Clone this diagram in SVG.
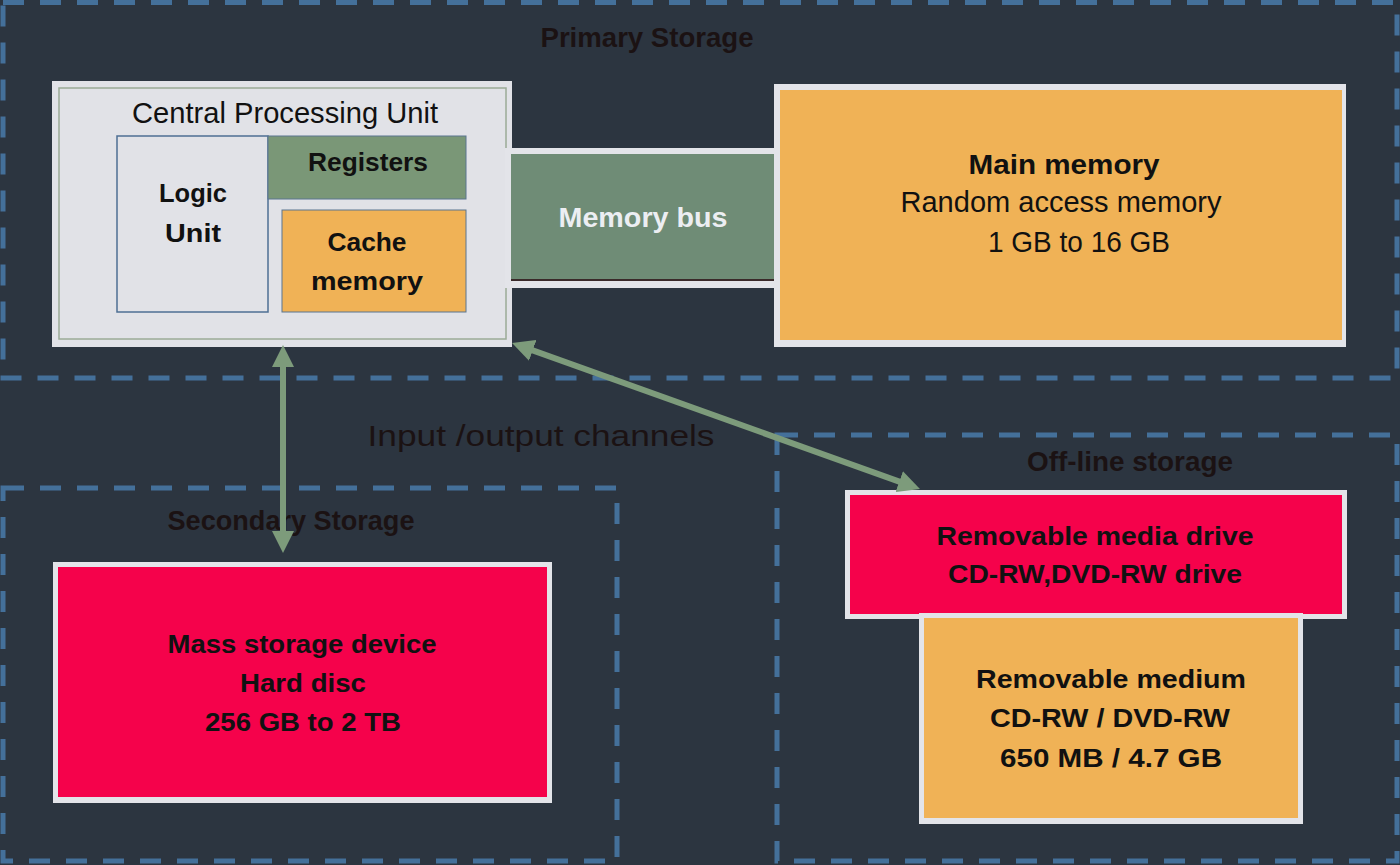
<svg xmlns="http://www.w3.org/2000/svg" width="1400" height="865" viewBox="0 0 1400 865">
  <style>
    .zone { fill: none; stroke: #44709a; stroke-width: 5; stroke-dasharray: 21 16; }
    .head { font-family: "Liberation Sans", Arial, sans-serif; font-weight: bold; font-size: 27px; fill: #1b1213; text-anchor: middle; }
    .lbl { font-family: "Liberation Sans", Arial, sans-serif; font-weight: bold; font-size: 26px; fill: #111111; text-anchor: middle; }
    .big { font-size: 28px; }
    .light { fill: #eceef2; }
    .reg { font-family: "Liberation Sans", Arial, sans-serif; font-weight: normal; font-size: 29px; fill: #111111; text-anchor: middle; }
    .io { font-size: 30px; fill: #1b1213; }
    .frame { fill: #e3e4e9; }
    .orange { fill: #f0b256; }
    .red { fill: #f5024b; }
    .green { fill: #7a9777; }
    .conn { stroke: #7d9b7b; stroke-width: 6; fill: none; }
  </style>
  <defs>
    <marker id="ah" viewBox="0 0 22 22" markerWidth="22" markerHeight="22" refX="6" refY="11" orient="auto-start-reverse" markerUnits="userSpaceOnUse">
      <path d="M0,0 L22,11 L0,22 Z" fill="#7d9b7b"/>
    </marker>
  </defs>

  <rect x="0" y="0" width="1400" height="865" fill="#2c3540"/>

  <g id="zones">
    <g id="primary-storage">
      <rect class="zone" x="3" y="2.5" width="1394" height="375.5"/>
      <text class="head" x="647" y="47" textLength="213" lengthAdjust="spacingAndGlyphs">Primary Storage</text>
    </g>
    <g id="secondary-storage">
      <rect class="zone" x="3" y="488" width="614" height="373"/>
      <text class="head" x="291" y="530" textLength="247" lengthAdjust="spacingAndGlyphs">Secondary Storage</text>
    </g>
    <g id="offline-storage">
      <rect class="zone" x="777" y="435" width="620" height="426"/>
      <text class="head" x="1130" y="471" textLength="206" lengthAdjust="spacingAndGlyphs">Off-line storage</text>
    </g>
    <g id="io-channels">
      <text class="reg io" x="541" y="446" textLength="347" lengthAdjust="spacingAndGlyphs">Input /output channels</text>
    </g>
  </g>

  <g id="cpu">
    <rect x="52" y="81" width="460" height="266" fill="#e1e2e7"/>
    <rect x="59" y="88" width="447" height="251" fill="none" stroke="#9aab97" stroke-width="1.5"/>
    <text class="reg" x="285" y="123" textLength="306" lengthAdjust="spacingAndGlyphs">Central Processing Unit</text>
    <g id="logic-unit">
      <rect x="117" y="136" width="151" height="176" fill="#e1e2e7" stroke="#4d6f94" stroke-width="1.5"/>
      <text class="lbl" x="193" y="202" textLength="68" lengthAdjust="spacingAndGlyphs">Logic</text>
      <text class="lbl" x="193" y="242" textLength="56" lengthAdjust="spacingAndGlyphs">Unit</text>
    </g>
    <g id="registers">
      <rect class="green" x="268" y="136" width="198" height="63" stroke="#5a7590" stroke-width="1"/>
      <text class="lbl" x="368" y="171" textLength="120" lengthAdjust="spacingAndGlyphs">Registers</text>
    </g>
    <g id="cache-memory">
      <rect class="orange" x="282" y="210" width="184" height="102" stroke="#5a7590" stroke-width="1"/>
      <text class="lbl" x="367" y="251" textLength="79" lengthAdjust="spacingAndGlyphs">Cache</text>
      <text class="lbl" x="367" y="290" textLength="112" lengthAdjust="spacingAndGlyphs">memory</text>
    </g>
  </g>

  <g id="memory-bus">
    <rect class="frame" x="505" y="148" width="277" height="140"/>
    <rect x="511" y="154" width="265" height="127" fill="#6f8c76"/>
    <line x1="511" y1="280" x2="776" y2="280" stroke="#3a2a2a" stroke-width="2"/>
    <text class="lbl big light" x="643" y="227" textLength="169" lengthAdjust="spacingAndGlyphs">Memory bus</text>
  </g>

  <g id="main-memory">
    <rect class="frame" x="774" y="84" width="572" height="263"/>
    <rect class="orange" x="780" y="90" width="562" height="250"/>
    <text class="lbl big" x="1064" y="174" textLength="191" lengthAdjust="spacingAndGlyphs">Main memory</text>
    <text class="reg" x="1061" y="212" textLength="321" lengthAdjust="spacingAndGlyphs">Random access memory</text>
    <text class="reg" x="1079" y="252" textLength="182" lengthAdjust="spacingAndGlyphs">1 GB to 16 GB</text>
  </g>

  <g id="mass-storage">
    <rect class="frame" x="53" y="562" width="499" height="241"/>
    <rect class="red" x="58" y="567" width="489" height="230"/>
    <text class="lbl" x="302" y="653" textLength="269" lengthAdjust="spacingAndGlyphs">Mass storage device</text>
    <text class="lbl" x="303" y="692" textLength="126" lengthAdjust="spacingAndGlyphs">Hard disc</text>
    <text class="lbl" x="303" y="731" textLength="196" lengthAdjust="spacingAndGlyphs">256 GB to 2 TB</text>
  </g>

  <g id="removable-drive">
    <rect class="frame" x="845" y="490" width="502" height="129"/>
    <rect class="red" x="850" y="495" width="492" height="119"/>
    <text class="lbl" x="1095" y="545" textLength="317" lengthAdjust="spacingAndGlyphs">Removable media drive</text>
    <text class="lbl" x="1095" y="583" textLength="294" lengthAdjust="spacingAndGlyphs">CD-RW,DVD-RW drive</text>
  </g>

  <g id="removable-medium">
    <rect class="frame" x="919" y="613" width="384" height="211"/>
    <rect class="orange" x="924" y="618" width="374" height="200"/>
    <text class="lbl" x="1111" y="688" textLength="270" lengthAdjust="spacingAndGlyphs">Removable medium</text>
    <text class="lbl" x="1110" y="727" textLength="240" lengthAdjust="spacingAndGlyphs">CD-RW / DVD-RW</text>
    <text class="lbl" x="1111" y="767" textLength="222" lengthAdjust="spacingAndGlyphs">650 MB / 4.7 GB</text>
  </g>

  <g id="connectors">
    <line class="conn" x1="283" y1="361" x2="283" y2="537" marker-start="url(#ah)" marker-end="url(#ah)"/>
    <line class="conn" x1="527.1" y1="348.4" x2="904.9" y2="483.6" marker-start="url(#ah)" marker-end="url(#ah)"/>
  </g>
</svg>
